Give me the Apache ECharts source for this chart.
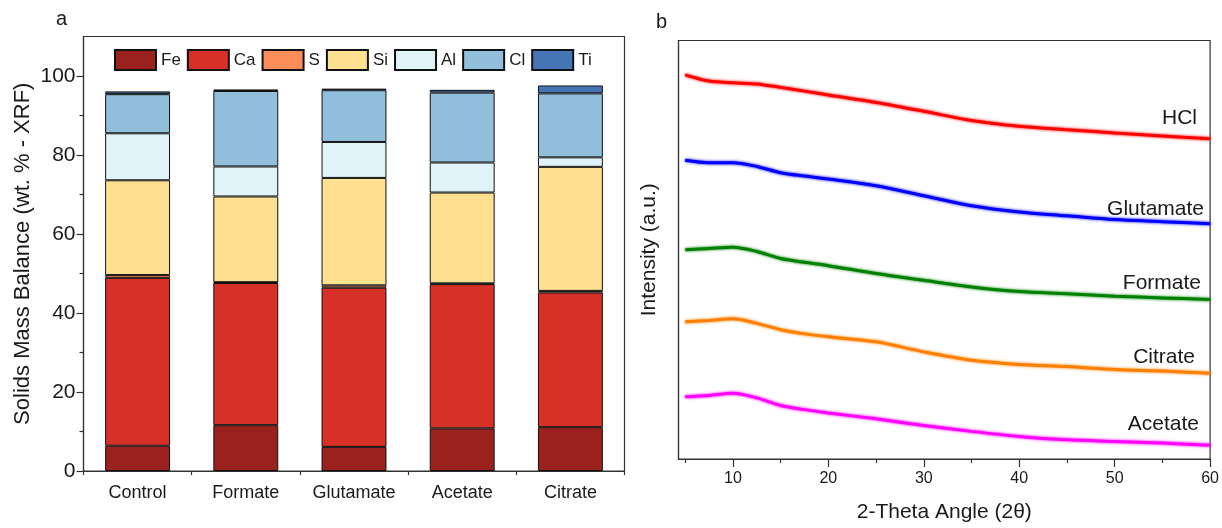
<!DOCTYPE html>
<html>
<head>
<meta charset="utf-8">
<script src="https://cdn.jsdelivr.net/npm/echarts@6/dist/echarts.min.js"></script>
<style>html,body{margin:0;padding:0;background:#fff}#c{width:1222px;height:528px}</style>
</head>
<body>
<div id="c"></div>
<script>
// ---- Panel a data (wt. %) ----
const categories = ['Control', 'Formate', 'Glutamate', 'Acetate', 'Citrate'];
const elements = ['Fe', 'Ca', 'S', 'Si', 'Al', 'Cl', 'Ti'];
const Fe = [6.4, 11.6, 6.1, 10.8, 11.1];
const Ca = [42.5, 36.0, 40.3, 36.5, 34.1];
const S  = [0.7, 0.2, 0.6, 0.2, 0.4];
const Si = [24.0, 21.7, 27.2, 23.0, 31.4];
const Al = [11.9, 7.6, 9.1, 7.6, 2.4];
const Cl = [9.9, 19.1, 13.1, 17.7, 16.2];
const Ti = [0.7, 0.4, 0.4, 0.7, 2.0];
const yTicksA = [0, 20, 40, 60, 80, 100];
const yMinorA = [10, 30, 50, 70, 90];

// ---- Panel b data (2-theta, offset intensity a.u.) ----
const twoTheta = [5, 7.5, 10, 12.5, 15, 17.5, 20, 25, 30, 35, 40, 45, 50, 55, 60];
const HCl       = [91.8, 90.3, 89.9, 89.6, 88.8, 87.9, 87.0, 85.2, 83.1, 80.9, 79.5, 78.7, 77.9, 77.2, 76.5];
const Glutamate = [71.4, 70.8, 70.8, 69.9, 68.4, 67.6, 66.9, 65.3, 62.9, 60.5, 59.0, 58.1, 57.2, 56.7, 56.2];
const Formate   = [50.0, 50.3, 50.6, 49.6, 47.9, 47.0, 46.2, 44.3, 42.7, 41.1, 40.0, 39.5, 38.9, 38.5, 38.1];
const Citrate   = [32.8, 33.1, 33.5, 32.4, 30.9, 29.9, 29.2, 28.0, 25.6, 23.6, 22.6, 22.1, 21.4, 21.0, 20.5];
const Acetate   = [14.9, 15.2, 15.7, 14.6, 12.8, 11.8, 11.0, 9.6, 8.0, 6.6, 5.4, 4.6, 4.2, 3.8, 3.3];
const xTicksB = [10, 20, 30, 40, 50, 60];
const xMinorB = [5, 15, 25, 35, 45, 55];

const FONT = 'Liberation Sans, Arial, sans-serif';
const TXT = '#1a1a1a';
const AX = '#333';

const barColors = ['#9b211e', '#d73027', '#fc8d59', '#fee090', '#e0f3f8', '#91bfdb', '#4575b4'];
const barData = [Fe, Ca, S, Si, Al, Cl, Ti];

const lineNames = ['HCl', 'Glutamate', 'Formate', 'Citrate', 'Acetate'];
const lineData = [HCl, Glutamate, Formate, Citrate, Acetate];
const lineColors = ['#ff0000', '#0000ff', '#008000', '#ff7f00', '#ff00ff'];
const labelPos = [[1197, 118], [1204, 209], [1201, 283], [1195, 357], [1199, 424]];

const chart = echarts.init(document.getElementById('c'));

const series = [];
elements.forEach((el, i) => {
  series.push({
    name: el, type: 'bar', stack: 'total', xAxisIndex: 0, yAxisIndex: 0,
    barCategoryGap: '40%',
    data: barData[i],
    itemStyle: { color: barColors[i], borderColor: '#111', borderWidth: 1 },
    emphasis: { disabled: true }
  });
});
lineNames.forEach((nm, i) => {
  series.push({
    name: nm, type: 'line', xAxisIndex: 2, yAxisIndex: 2,
    data: twoTheta.map((x, k) => [x, lineData[i][k]]),
    showSymbol: false, smooth: 0.3,
    lineStyle: { color: lineColors[i], width: 3, shadowColor: lineColors[i], shadowBlur: 3 },
    emphasis: { disabled: true }
  });
});

const option = {
  animation: false,
  textStyle: { fontFamily: FONT, color: TXT },
  grid: [
    { left: 83.5, top: 36.5, right: 597.5, bottom: 57, show: true, borderColor: AX, borderWidth: 1.2, backgroundColor: 'transparent' },
    { left: 678.5, top: 40.5, right: 9.5, bottom: 67, show: true, borderColor: AX, borderWidth: 1.2, backgroundColor: 'transparent' }
  ],
  legend: {
    data: elements, left: 114, top: 49, padding: 0, icon: 'rect', itemWidth: 41, itemHeight: 20, itemGap: 6,
    textStyle: { fontSize: 17, color: TXT, fontFamily: FONT },
    selectedMode: false
  },
  xAxis: [
    { type: 'category', gridIndex: 0, data: categories, position: 'bottom',
      axisLine: { lineStyle: { color: AX, width: 1.2 } },
      axisTick: { alignWithLabel: true, length: 8, lineStyle: { color: AX, width: 1.2 } },
      axisLabel: { fontSize: 18, color: TXT, margin: 13, fontFamily: FONT } },
    { type: 'category', gridIndex: 0, data: categories, position: 'bottom', offset: 0,
      axisLine: { show: false },
      axisTick: { show: true, alignWithLabel: false, length: 4, lineStyle: { color: AX, width: 1.2 } },
      axisLabel: { show: false } },
    { type: 'value', gridIndex: 1, min: 4.3, max: 60, position: 'bottom',
      axisLine: { onZero: false, lineStyle: { color: AX, width: 1.2 } },
      axisTick: { length: 8, customValues: xTicksB, lineStyle: { color: AX, width: 1.2 } },
      axisLabel: { fontSize: 16, color: TXT, margin: 12, customValues: xTicksB, fontFamily: FONT },
      splitLine: { show: false },
      name: '2-Theta Angle (2\u03B8)', nameLocation: 'middle', nameGap: 43,
      nameTextStyle: { fontSize: 21, color: TXT, fontFamily: FONT } },
    { type: 'value', gridIndex: 1, min: 4.3, max: 60, position: 'bottom', offset: 0,
      axisLine: { show: false },
      axisTick: { length: 4, customValues: xMinorB, lineStyle: { color: AX, width: 1.2 } },
      axisLabel: { show: false, customValues: xMinorB },
      splitLine: { show: false } }
  ],
  yAxis: [
    { type: 'value', gridIndex: 0, min: 0, max: 110, interval: 10, position: 'left',
      axisLine: { show: true, lineStyle: { color: AX, width: 1.2 } },
      axisTick: { show: true, length: 7, customValues: yTicksA, lineStyle: { color: AX, width: 1.2 } },
      axisLabel: { fontSize: 21, color: TXT, margin: 8, customValues: yTicksA, fontFamily: FONT },
      splitLine: { show: false },
      name: 'Solids Mass Balance (wt. % - XRF)', nameLocation: 'middle', nameGap: 50,
      nameTextStyle: { fontSize: 22, color: TXT, fontFamily: FONT } },
    { type: 'value', gridIndex: 0, min: 0, max: 110, interval: 10, position: 'left', offset: 0,
      axisLine: { show: false },
      axisTick: { show: true, length: 4, customValues: yMinorA, lineStyle: { color: AX, width: 1.2 } },
      axisLabel: { show: false, customValues: yMinorA },
      splitLine: { show: false } },
    { type: 'value', gridIndex: 1, min: 0, max: 100, position: 'left',
      axisLine: { show: true, onZero: false, lineStyle: { color: AX, width: 1.2 } },
      axisTick: { show: false }, axisLabel: { show: false }, splitLine: { show: false },
      name: 'Intensity (a.u.)', nameLocation: 'middle', nameGap: 19,
      nameTextStyle: { fontSize: 21, color: TXT, fontFamily: FONT } }
  ],
  series: series,
  graphic: [
    { type: 'text', left: 56, top: 9, style: { text: 'a', font: '20px ' + FONT, fill: TXT } },
    { type: 'text', left: 656, top: 12, style: { text: 'b', font: '20px ' + FONT, fill: TXT } }
  ].concat(lineNames.map((nm, i) => ({
    type: 'text', x: labelPos[i][0], y: labelPos[i][1],
    style: { text: nm, font: '21px ' + FONT, fill: TXT, align: 'right', verticalAlign: 'middle' }
  })))
};
chart.setOption(option);
</script>
</body>
</html>
